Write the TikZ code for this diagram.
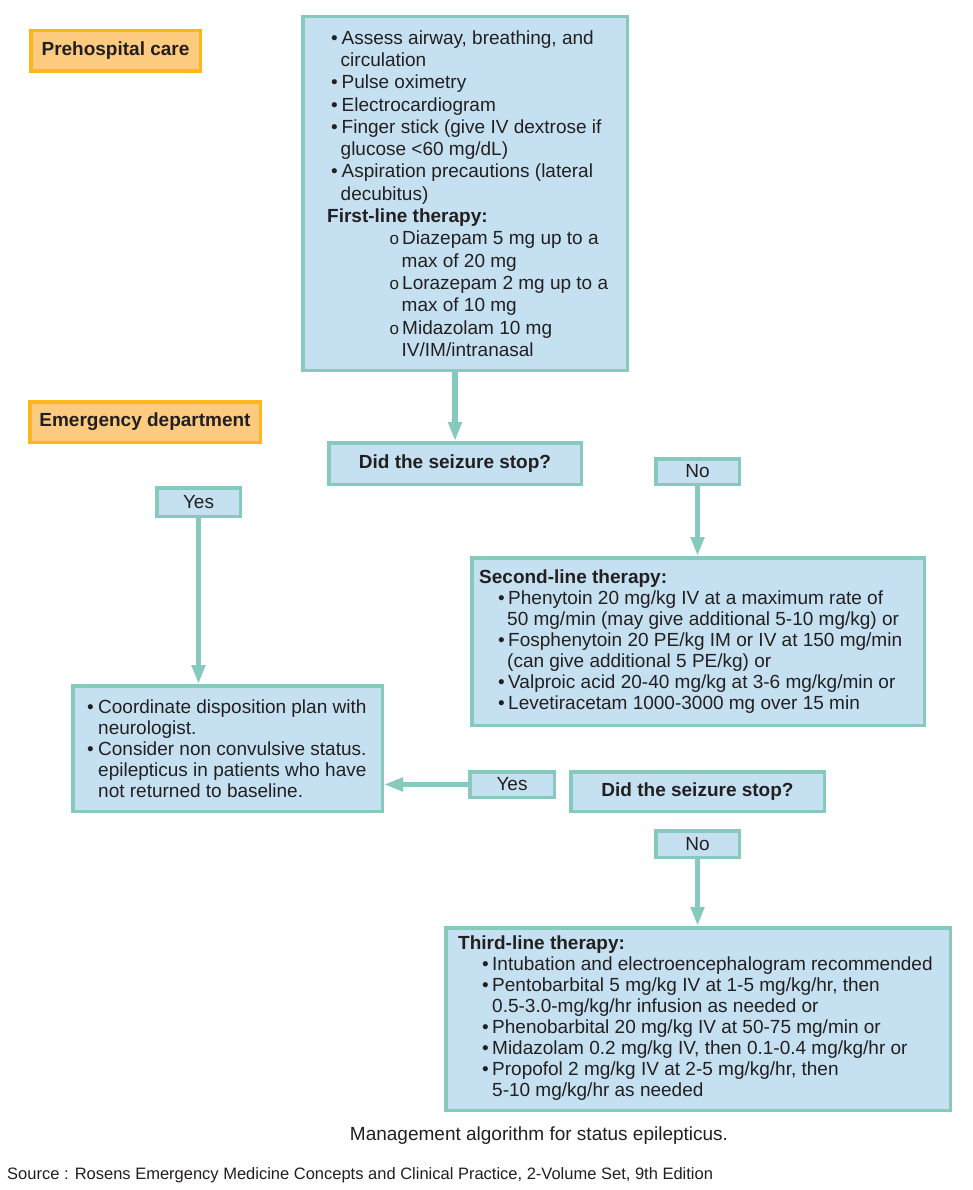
\documentclass[tikz,border=0pt]{standalone}
\usepackage{fontspec}
\setmainfont{Liberation Sans}
\usetikzlibrary{arrows.meta}
\definecolor{boxfill}{HTML}{C5E1F1}
\definecolor{tealline}{HTML}{86C9BD}
\definecolor{orfill}{HTML}{FDCB7F}
\definecolor{orline}{HTML}{FDB71A}
\definecolor{ink}{HTML}{231F20}
\newcommand{\bitem}[3]{\hspace*{#1pt}\makebox[#2pt][l]{\textbullet}#3}
\newcommand{\oitem}[3]{\hspace*{#1pt}\makebox[#2pt][l]{\fontsize{17}{17}\selectfont o}#3}
\newcommand{\cont}[2]{\hspace*{#1pt}#2}
\tikzset{
  bluebox/.style={draw=tealline, fill=boxfill, line width=3.5pt, inner sep=0pt, text=ink},
  orbox/.style={draw=orline, fill=orfill, line width=3.5pt, inner sep=0pt, text=ink, font=\bfseries\fontsize{19}{22}\selectfont},
  qbox/.style={bluebox, font=\bfseries\fontsize{19}{22}\selectfont},
  ynbox/.style={bluebox, font=\fontsize{19}{22}\selectfont},
  body/.style={font=\fontsize{19}{21}\selectfont, text=ink, align=left, inner sep=0pt, anchor=west},
  arr/.style={draw=tealline, line width=5.5pt, -{Triangle[width=13pt,length=19pt]}},
}
\begin{document}
\begin{tikzpicture}[x=1pt,y=1pt]
\useasboundingbox[fill=white] (0,0) rectangle (972,-1190);

% labels
\node[orbox, minimum width=169.5pt, minimum height=40.5pt] (pre) at (115.5,-51) {Prehospital care};
\node[orbox, minimum width=230.5pt, minimum height=40.5pt] (emerg) at (145,-422) {Emergency department};

% boxes
\node[bluebox, minimum width=324.5pt, minimum height=353.5pt] (top) at (465,-193.5) {};
\node[body, font=\fontsize{19}{22.3}\selectfont] (toptext) at (327,-193.5) {%
\bitem{4}{10.5}{Assess airway, breathing, and}\\
\cont{13.5}{circulation}\\
\bitem{4}{10.5}{Pulse oximetry}\\
\bitem{4}{10.5}{Electrocardiogram}\\
\bitem{4}{10.5}{Finger stick (give IV dextrose if}\\
\cont{13.5}{glucose <60 mg/dL)}\\
\bitem{4}{10.5}{Aspiration precautions (lateral}\\
\cont{13.5}{decubitus)}\\
\textbf{First-line therapy:}\\
\oitem{62.5}{12.5}{Diazepam 5 mg up to a}\\
\cont{74.5}{max of 20 mg}\\
\oitem{62.5}{12.5}{Lorazepam 2 mg up to a}\\
\cont{74.5}{max of 10 mg}\\
\oitem{62.5}{12.5}{Midazolam 10 mg}\\
\cont{74.5}{IV/IM/intranasal}};

\node[qbox, minimum width=252.5pt, minimum height=41.5pt] (q1) at (455,-463.5) {Did the seizure stop?};
\node[ynbox, minimum width=83.5pt, minimum height=25.5pt] (no1) at (697.5,-471.5) {No};
\node[ynbox, minimum width=83.5pt, minimum height=28.5pt] (yes1) at (198.5,-502) {Yes};

\node[bluebox, minimum width=452.5pt, minimum height=167.5pt] (second) at (698,-641.5) {};
\node[body] (secondtext) at (479,-641.5) {%
\textbf{Second-line therapy:}\\
\bitem{19}{10}{Phenytoin 20 mg/kg IV at a maximum rate of}\\
\cont{28}{50 mg/min (may give additional 5-10 mg/kg) or}\\
\bitem{19}{10}{Fosphenytoin 20 PE/kg IM or IV at 150 mg/min}\\
\cont{28}{(can give additional 5 PE/kg) or}\\
\bitem{19}{10}{Valproic acid 20-40 mg/kg at 3-6 mg/kg/min or}\\
\bitem{19}{10}{Levetiracetam 1000-3000 mg over 15 min}};

\node[bluebox, minimum width=309.5pt, minimum height=125.5pt] (coord) at (227.5,-748.5) {};
\node[body] (coordtext) at (87,-748.5) {%
\bitem{0}{11}{Coordinate disposition plan with}\\
\cont{11}{neurologist.}\\
\bitem{0}{11}{Consider non convulsive status.}\\
\cont{11}{epilepticus in patients who have}\\
\cont{11}{not returned to baseline.}};

\node[ynbox, minimum width=84.5pt, minimum height=25.5pt] (yes2) at (512,-784.5) {Yes};
\node[qbox, minimum width=253.5pt, minimum height=39.5pt] (q2) at (697.5,-791.5) {Did the seizure stop?};
\node[ynbox, minimum width=83.5pt, minimum height=26.5pt] (no2) at (697.5,-844) {No};

\node[bluebox, minimum width=504.5pt, minimum height=182.5pt] (third) at (698,-1019) {};
\node[body] (thirdtext) at (458,-1018) {%
\textbf{Third-line therapy:}\\
\bitem{24}{10}{Intubation and electroencephalogram recommended}\\
\bitem{24}{10}{Pentobarbital 5 mg/kg IV at 1-5 mg/kg/hr, then}\\
\cont{34}{0.5-3.0-mg/kg/hr infusion as needed or}\\
\bitem{24}{10}{Phenobarbital 20 mg/kg IV at 50-75 mg/min or}\\
\bitem{24}{10}{Midazolam 0.2 mg/kg IV, then 0.1-0.4 mg/kg/hr or}\\
\bitem{24}{10}{Propofol 2 mg/kg IV at 2-5 mg/kg/hr, then}\\
\cont{34}{5-10 mg/kg/hr as needed}};

% captions
\node[font=\fontsize{19}{22}\selectfont, text=ink, inner sep=0pt] (caption) at (539,-1136) {Management algorithm for status epilepticus.};
\node[font=\fontsize{16.5}{20}\selectfont, text=ink, inner sep=0pt, anchor=west] (source) at (7,-1175) {Source : Rosens Emergency Medicine Concepts and Clinical Practice, 2-Volume Set, 9th Edition};

% connectors
\draw[arr] (top.south -| q1.north) -- (q1.north);
\draw[arr] (yes1.south) -- (yes1.south |- coord.north);
\draw[arr] (no1.south) -- (no1.south |- second.north);
\draw[arr] (yes2.west) -- (yes2.west -| coord.east);
\draw[arr] (no2.south) -- (no2.south |- third.north);
\end{tikzpicture}
\end{document}
